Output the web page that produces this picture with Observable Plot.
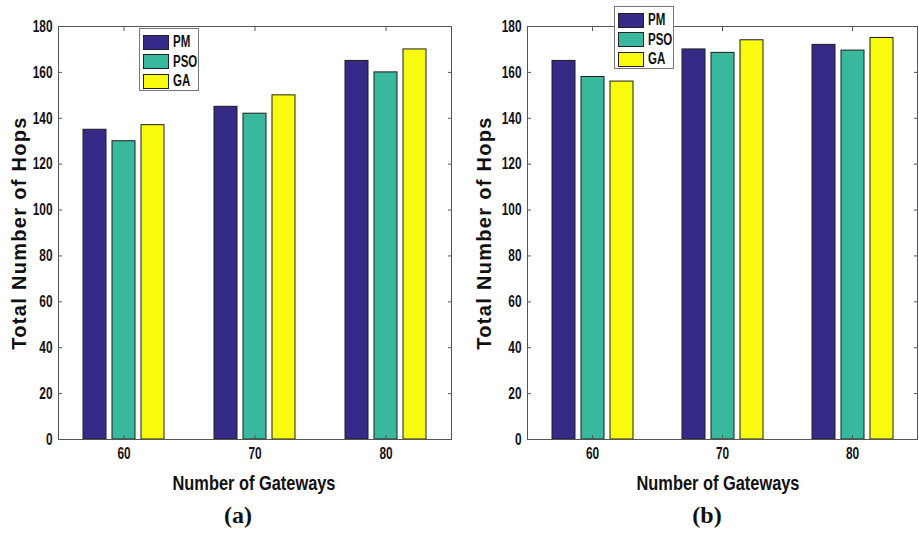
<!DOCTYPE html>
<html><head><meta charset="utf-8">
<script src="https://cdn.jsdelivr.net/npm/d3@7"></script>
<script src="https://cdn.jsdelivr.net/npm/@observablehq/plot@0.6"></script>
<style>
body{margin:0;background:#fff;}
#root{position:relative;width:919px;height:533px;overflow:hidden;background:#fff;}
.panel{position:absolute;top:0;}
.xlabel{position:absolute;font:bold 21px "Liberation Sans",Arial,sans-serif;color:#111;white-space:nowrap;transform:translate(-50%,-50%) scaleX(0.78);}
.cap{position:absolute;font:bold 24px "Liberation Serif","Times New Roman",serif;color:#111;white-space:nowrap;transform:translate(-50%,-50%);}
.legend{position:absolute;background:#fff;border:1px solid #777;box-sizing:border-box;}
.legrow{position:absolute;left:3px;display:flex;align-items:center;}
.legtxt{font:bold 16px "Liberation Sans",Arial,sans-serif;color:#111;transform:scaleX(0.72);transform-origin:left center;display:inline-block;}
.sw{width:26px;height:15px;border:1px solid #222;margin-right:4px;box-sizing:border-box;}
.ylab text{letter-spacing:1.3px;}
</style></head>
<body><div id="root"></div>
<script>
const gateways = [60, 70, 80];
const seriesNames = ["PM", "PSO", "GA"];
const seriesColors = ["#352a87", "#38b99e", "#f9fb0e"];
const yTicks = [0, 20, 40, 60, 80, 100, 120, 140, 160, 180];
const pmA = [135, 145, 165];
const psoA = [130, 142, 160];
const gaA = [137, 150, 170];
const pmB = [165, 170, 172];
const psoB = [158, 168.5, 169.5];
const gaB = [156, 174, 175];
const xTitle = "Number of Gateways";
const yTitle = "Total Number of Hops";

const root = document.getElementById("root");
const tickFont = '"Liberation Sans",Arial,sans-serif';

function rowsOf(arrs) {
  const rows = [];
  gateways.forEach((g, i) => seriesNames.forEach((s, j) => rows.push({g, s, v: arrs[j][i]})));
  return rows;
}

function squeeze(svg, s) {
  svg.querySelectorAll('g[aria-label$="tick label"] text').forEach(t => {
    const tr = t.getAttribute("transform") || "";
    t.setAttribute("transform", `${tr} scale(${s},1)`);
  });
}

function panel(arrs, cfg) {
  const rows = rowsOf(arrs);
  const chart = Plot.plot({
    width: cfg.width, height: 470,
    marginLeft: cfg.ml, marginRight: cfg.mr, marginTop: 26, marginBottom: 31,
    style: {fontFamily: tickFont, fontSize: "16.5px", fontWeight: "bold", color: "#555", background: "transparent"},
    fx: {domain: gateways, padding: 0},
    x: {domain: seriesNames, paddingInner: 0.215, paddingOuter: 0.843, axis: null},
    y: {domain: [0, 180]},
    color: {domain: seriesNames, range: seriesColors},
    marks: [
      Plot.barY(rows, {fx: "g", x: "s", y: "v", fill: "s", stroke: "#1e1e1e", strokeWidth: 1}),
      Plot.frame({facet: "super", stroke: "#555"}),
      Plot.axisY({anchor: "left", ticks: yTicks, tickSize: -4, tickPadding: 10, label: null, fill: "#111"}),
      Plot.axisY({anchor: "right", ticks: yTicks, tickSize: -4, tickFormat: () => "", label: null}),
      Plot.axisFx({anchor: "bottom", tickSize: -4, tickPadding: 12, label: null, fill: "#111"}),
      Plot.axisFx({anchor: "top", tickSize: -4, tickFormat: () => "", label: null}),
      Plot.text([yTitle], {facet: "super", frameAnchor: "left", textAnchor: "middle", rotate: -90, dx: cfg.ydx, fontSize: 20, fontWeight: "bold", fontFamily: '"Liberation Sans",Arial,sans-serif', fill: "#111", className: "ylab"})
    ]
  });
  squeeze(chart, 0.72);
  const wrap = document.createElement("div");
  wrap.className = "panel";
  wrap.style.left = cfg.left + "px";
  wrap.appendChild(chart);
  root.appendChild(wrap);

  const xl = document.createElement("div");
  xl.className = "xlabel"; xl.textContent = xTitle;
  xl.style.left = cfg.xlx + "px"; xl.style.top = "483px";
  root.appendChild(xl);
  const cp = document.createElement("div");
  cp.className = "cap"; cp.textContent = cfg.cap;
  cp.style.left = cfg.capx + "px"; cp.style.top = "515px";
  root.appendChild(cp);

  const lg = document.createElement("div");
  lg.className = "legend";
  lg.style.left = cfg.lgx + "px"; lg.style.top = cfg.lgy + "px";
  lg.style.width = "60px"; lg.style.height = "63px";
  seriesNames.forEach((s, i) => {
    const r = document.createElement("div");
    r.className = "legrow";
    r.style.top = (4 + i * 19.7) + "px";
    const sw = document.createElement("div");
    sw.className = "sw"; sw.style.background = seriesColors[i];
    const t = document.createElement("span"); t.className = "legtxt"; t.textContent = s;
    r.appendChild(sw); r.appendChild(t);
    lg.appendChild(r);
  });
  root.appendChild(lg);
}

panel([pmA, psoA, gaA], {left: 0, width: 460, ml: 58, mr: 9, ydx: -39, xlx: 254, capx: 238, cap: "(a)", lgx: 139, lgy: 28});
panel([pmB, psoB, gaB], {left: 460, width: 459, ml: 66, mr: 2, ydx: -43, xlx: 718, capx: 707, cap: "(b)", lgx: 614, lgy: 6});
</script></body></html>
